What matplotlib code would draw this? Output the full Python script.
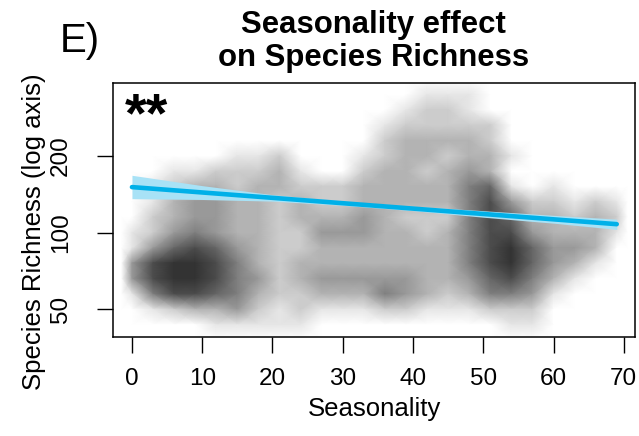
import numpy as np
import matplotlib
matplotlib.use("Agg")
import matplotlib.pyplot as plt
from matplotlib.colors import LinearSegmentedColormap

plt.rcParams['font.family'] = ['Liberation Sans', 'DejaVu Sans']

W, H = 639, 436

# point cloud, summarised as shading level (0 = empty, 9 = solid) on a grid
seasonality = [0, 3, 6, 9, 12, 15, 18, 21, 24, 27, 30, 33,
               36, 39, 42, 45, 48, 51, 54, 57, 60, 63, 66, 69]
richness = [348, 303, 264, 230, 200, 174, 152, 132,
            115, 100, 87, 76, 66, 57.4, 50, 43.5]

# one list per seasonality column, richness from high to low
point_density = [
    [0, 0, 0, 0, 0, 0, 0, 0, 0, 1, 1, 4, 4, 1, 0, 0],   # 0
    [0, 0, 0, 0, 0, 0, 1, 1, 2, 2, 4, 7, 7, 5, 1, 0],   # 3
    [0, 0, 0, 0, 0, 1, 2, 3, 3, 4, 6, 8, 8, 7, 2, 0],   # 6
    [0, 0, 0, 0, 0, 1, 3, 4, 4, 5, 7, 8, 8, 7, 3, 0],   # 9
    [0, 0, 0, 0, 0, 2, 3, 4, 4, 4, 6, 7, 7, 6, 3, 1],   # 12
    [0, 0, 0, 0, 1, 2, 2, 3, 3, 3, 4, 5, 5, 5, 4, 1],   # 15
    [0, 0, 0, 0, 1, 2, 3, 3, 3, 3, 3, 3, 4, 3, 2, 1],   # 18
    [0, 0, 0, 0, 2, 3, 3, 2, 2, 2, 2, 2, 2, 2, 1, 1],   # 21
    [0, 0, 0, 0, 0, 1, 2, 3, 3, 2, 2, 3, 3, 2, 2, 1],   # 24
    [0, 0, 0, 0, 0, 0, 2, 2, 3, 4, 3, 3, 4, 3, 1, 0],   # 27
    [0, 0, 0, 0, 0, 0, 2, 2, 3, 4, 3, 3, 4, 3, 1, 0],   # 30
    [0, 0, 0, 0, 1, 2, 3, 3, 4, 4, 3, 3, 4, 3, 1, 0],   # 33
    [0, 0, 1, 2, 2, 3, 3, 3, 3, 3, 3, 3, 4, 5, 2, 0],   # 36
    [0, 1, 2, 3, 3, 3, 3, 3, 2, 3, 3, 3, 4, 4, 2, 0],   # 39
    [1, 2, 2, 3, 3, 2, 3, 3, 2, 2, 3, 3, 3, 3, 1, 0],   # 42
    [1, 2, 2, 3, 2, 3, 3, 3, 2, 3, 3, 3, 3, 2, 1, 0],   # 45
    [1, 1, 2, 3, 3, 4, 5, 5, 5, 5, 5, 5, 4, 3, 1, 0],   # 48
    [0, 0, 2, 2, 3, 3, 6, 7, 7, 7, 7, 7, 6, 5, 2, 0],   # 51
    [0, 0, 0, 0, 1, 0, 1, 4, 6, 7, 8, 8, 7, 5, 2, 1],   # 54
    [0, 0, 0, 0, 0, 0, 0, 2, 3, 4, 6, 6, 5, 4, 2, 1],   # 57
    [0, 0, 0, 0, 0, 0, 1, 2, 3, 3, 4, 4, 3, 1, 0, 0],   # 60
    [0, 0, 0, 0, 0, 0, 0, 1, 2, 3, 4, 3, 1, 0, 0, 0],   # 63
    [0, 0, 0, 0, 0, 0, 0, 2, 3, 3, 3, 1, 0, 0, 0, 0],   # 66
    [0, 0, 0, 0, 0, 0, 0, 1, 2, 1, 0, 0, 0, 0, 0, 0],   # 69
]

# fitted trend and its confidence band
fit_x = [0, 69]
fit_y = [151, 108]
ci_x = [0, 10, 20, 30, 40, 50, 60, 69]
ci_lo = [136, 135, 133, 128, 122, 115, 109, 103]
ci_hi = [168, 153, 141, 133, 127, 122, 117, 113]

xticks = [0, 10, 20, 30, 40, 50, 60, 70]
yticks = [50, 100, 200]


def px(x, y):
    return x / W, 1 - y / H


fig = plt.figure(figsize=(W / 100, H / 100), dpi=100)
ax = fig.add_axes([113 / W, 1 - 337 / H, (635 - 113) / W, (337 - 83) / H])

# empty border round the grid so the cloud fades out instead of stopping hard
sx = np.concatenate([[-1.5], seasonality, [70.5]])
ry = np.concatenate([[400], richness, [38]])
Z = np.pad(np.array(point_density, dtype=float).T, 1)
X, Y = np.meshgrid(sx, ry)
cmap = LinearSegmentedColormap.from_list('pts', ['white', 'black'])
ax.pcolormesh(X, Y, Z, shading='gouraud', cmap=cmap, vmin=0, vmax=10,
              zorder=1, rasterized=True)

ax.fill_between(ci_x, ci_lo, ci_hi, color='#a8e2f6', lw=0, zorder=2)
ax.plot(fit_x, fit_y, color='#00b0e8', lw=3.3, solid_capstyle='round', zorder=3)

ax.set_yscale('log')
ax.set_xlim(-2.7, 71.6)
ax.set_ylim(38.95, 386.9)
ax.set_xticks(xticks)
ax.set_xticklabels([str(t) for t in xticks])
ax.set_yticks(yticks)
ax.set_yticklabels([str(t) for t in yticks])
ax.minorticks_off()
ax.tick_params(axis='both', direction='out', length=11.5, width=1.0,
               labelsize=17.5)
ax.tick_params(axis='x', pad=10.5)
ax.tick_params(axis='y', pad=18, labelrotation=90)
for lab in ax.get_yticklabels():
    lab.set_va('center')
for s in ax.spines.values():
    s.set_linewidth(1.1)

fig.text(*px(125, 131), '**', fontsize=40, fontweight='bold',
         va='baseline', ha='left')

fig.text(*px(373, 33), 'Seasonality effect', ha='center', va='baseline',
         fontsize=22.4, fontweight='bold')
fig.text(*px(374, 66), 'on Species Richness', ha='center', va='baseline',
         fontsize=22.4, fontweight='bold')
fig.text(*px(60, 52), 'E)', ha='left', va='baseline', fontsize=29)

fig.text(*px(374, 416), 'Seasonality', ha='center', va='baseline',
         fontsize=18.5)
fig.text(*px(41, 232), 'Species Richness (log axis)', rotation=90,
         rotation_mode='anchor', ha='center', va='baseline', fontsize=18.5)

fig.savefig('out.png', dpi=100)
